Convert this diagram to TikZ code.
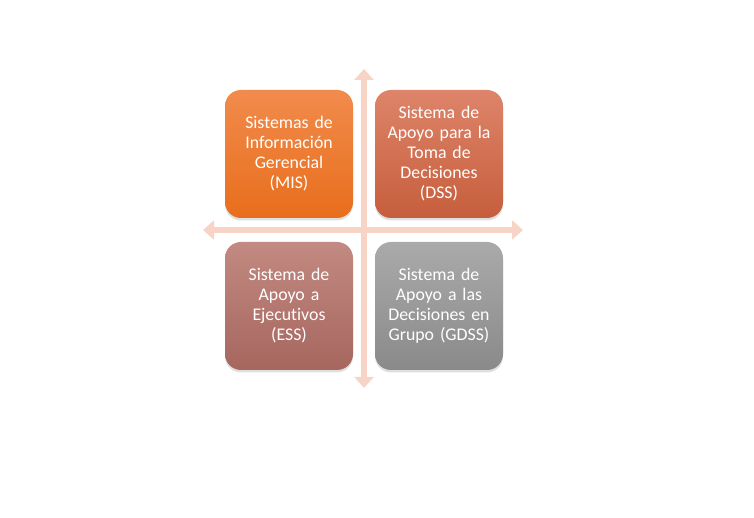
\documentclass[tikz,border=0pt]{standalone}
\usepackage{fontspec}
\setmainfont{Carlito}[Ligatures=NoCommon, WordSpace=0.8]
\usepackage{tikz}
\usetikzlibrary{arrows.meta, shadows}

\definecolor{arrowPink}{HTML}{F8D4C7}

\begin{document}
\begin{tikzpicture}[x=1pt, y=1pt,
        quadBox/.style={rounded corners=16pt, minimum width=128pt, minimum height=128pt,
            inner sep=0pt, text width=126pt, align=center, text=white,
            font=\fontsize{17.8}{20}\selectfont,
            drop shadow={opacity=0.25, shadow xshift=0pt, shadow yshift=-2.5pt}},
        axisArrow/.style={arrowPink, line width=6pt,
            {Triangle[width=19pt, length=11pt]}-{Triangle[width=19pt, length=11pt]}}]
        \useasboundingbox (0,0) rectangle (754,518);

        \coordinate (v_start) at (364,130);
        \coordinate (v_end) at (364,449);
        \coordinate (h_start) at (203,288);
        \coordinate (h_end) at (523,288);

        \draw[axisArrow] (v_start) -- (v_end);
        \draw[axisArrow] (h_start) -- (h_end);

        \node[quadBox, top color={rgb,255:red,241;green,139;blue,76}, bottom color={rgb,255:red,232;green,110;blue,28}]
            (mis) at (289,364) {Sistemas de\\Información\\Gerencial\\(MIS)};
        \node[quadBox, top color={rgb,255:red,222;green,132;blue,106}, bottom color={rgb,255:red,198;green,94;blue,60}]
            (dss) at (439,364) {Sistema de\\Apoyo para la\\Toma de\\Decisiones\\(DSS)};
        \node[quadBox, top color={rgb,255:red,194;green,138;blue,130}, bottom color={rgb,255:red,166;green,102;blue,94}]
            (ess) at (289,212) {Sistema de\\Apoyo a\\Ejecutivos\\(ESS)};
        \node[quadBox, top color={rgb,255:red,170;green,170;blue,170}, bottom color={rgb,255:red,138;green,138;blue,138}]
            (gdss) at (439,212) {Sistema de\\Apoyo a las\\Decisiones en\\Grupo (GDSS)};
        \end{tikzpicture}
\end{document}
